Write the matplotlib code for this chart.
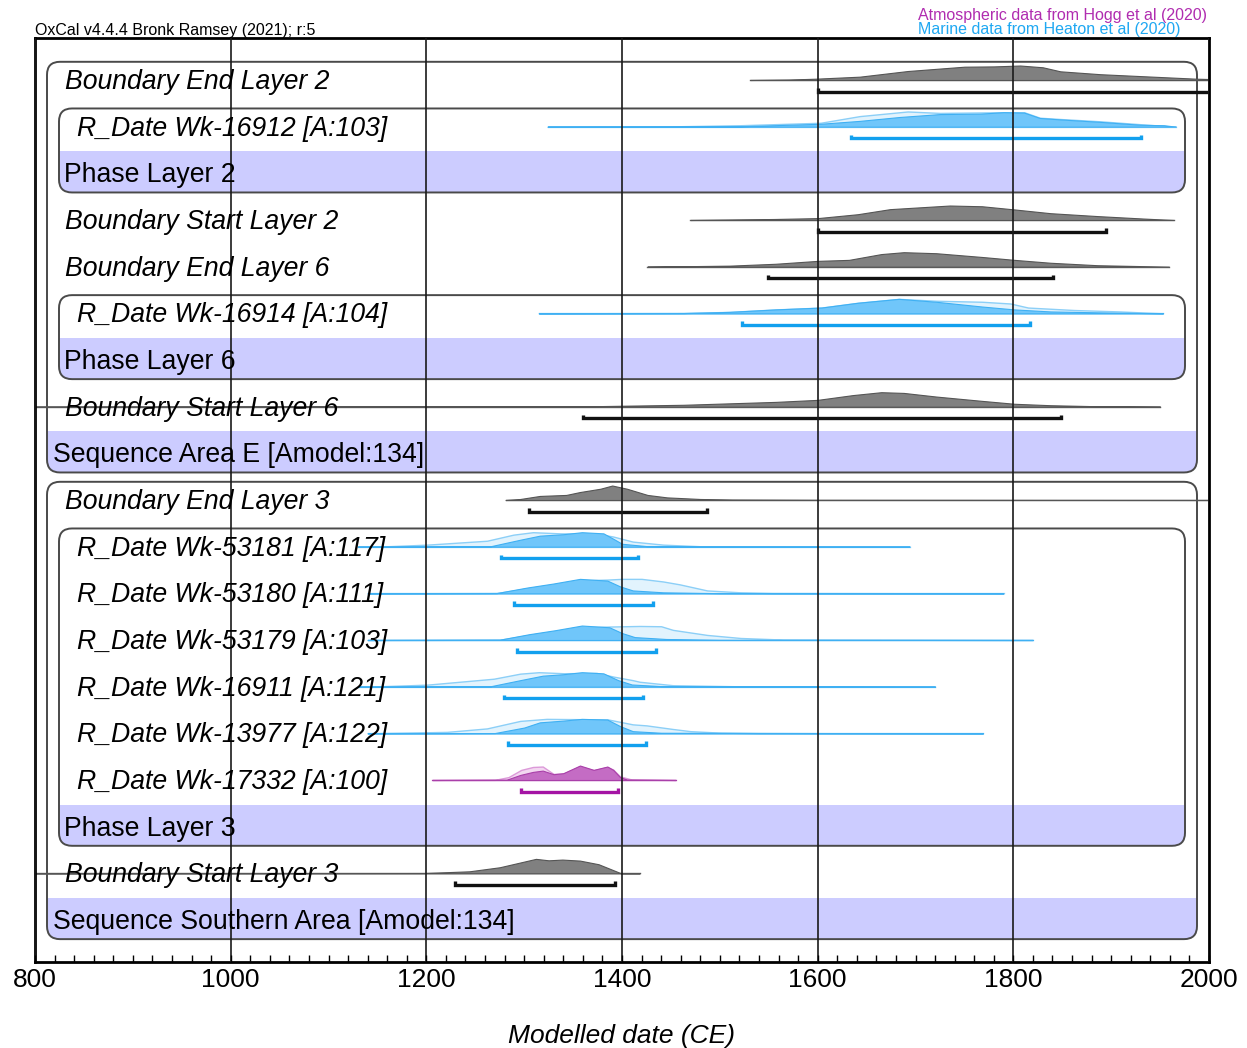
import numpy as np
import matplotlib
matplotlib.use('Agg')
import matplotlib.pyplot as plt
import matplotlib.transforms as mtransforms
from matplotlib.patches import FancyBboxPatch, Rectangle
from matplotlib.ticker import MultipleLocator

plt.rcParams['font.family'] = ['Liberation Sans', 'DejaVu Sans']

# rows, top to bottom
row_labels = [
    'Boundary End Layer 2', 'R_Date Wk-16912 [A:103]', 'Phase Layer 2',
    'Boundary Start Layer 2', 'Boundary End Layer 6', 'R_Date Wk-16914 [A:104]',
    'Phase Layer 6', 'Boundary Start Layer 6', 'Sequence Area E [Amodel:134]',
    'Boundary End Layer 3', 'R_Date Wk-53181 [A:117]', 'R_Date Wk-53180 [A:111]',
    'R_Date Wk-53179 [A:103]', 'R_Date Wk-16911 [A:121]', 'R_Date Wk-13977 [A:122]',
    'R_Date Wk-17332 [A:100]', 'Phase Layer 3', 'Boundary Start Layer 3',
    'Sequence Southern Area [Amodel:134]',
]
row_kinds = ['boundary', 'rdate', 'phase', 'boundary', 'boundary', 'rdate', 'phase',
             'boundary', 'sequence', 'boundary', 'rdate', 'rdate', 'rdate', 'rdate',
             'rdate', 'rdate', 'phase', 'boundary', 'sequence']
# curve per row: marine / atmospheric / none
row_curve = ['', 'marine', '', '', '', 'marine', '', '', '', '', 'marine', 'marine',
             'marine', 'marine', 'marine', 'atmos', '', '', '']

# nested groups: (first row, last row, level)
groups = [(0, 8, 0), (1, 2, 1), (5, 6, 1), (9, 18, 0), (10, 16, 1)]

# posterior (modelled) distributions, (year CE, relative probability)
end_l2 = [(1531, 0), (1570, .03), (1598, .09), (1643, .23), (1692, .62), (1750, .92),
          (1780, .94), (1807, 1.0), (1830, .88), (1848, .6), (1889, .4), (1930, .27),
          (1987, .09), (2040, 0)]
wk16912 = [(1324, 0), (1450, .01), (1521, .03), (1603, .2), (1643, .4), (1684, .67),
           (1725, .87), (1766, .9), (1790, 1.0), (1811, .97), (1827, .6), (1848, .5),
           (1889, .33), (1930, .13), (1954, .1), (1966, 0)]
start_l2 = [(1470, 0), (1556, .07), (1600, .13), (1641, .4), (1674, .75), (1735, 1.0),
            (1768, .95), (1801, .73), (1838, .47), (1886, .27), (1933, .1), (1964, 0)]
end_l6 = [(1426, 0), (1510, .07), (1557, .2), (1600, .4), (1632, .47), (1665, .87),
          (1688, 1.0), (1721, .93), (1768, .67), (1801, .47), (1838, .27), (1886, .1),
          (1959, 0)]
wk16914 = [(1315, 0), (1463, .02), (1510, .1), (1557, .27), (1604, .4), (1641, .73),
           (1683, 1.0), (1721, .8), (1768, .47), (1801, .27), (1838, .13), (1886, .07),
           (1953, 0)]
start_l6 = [(780, 0), (1369, .03), (1463, .13), (1557, .33), (1600, .47), (1636, .8),
            (1665, 1.0), (1688, .95), (1721, .7), (1768, .4), (1801, .2), (1838, .1),
            (1886, .03), (1950, 0)]
end_l3 = [(1281, 0), (1296, .07), (1316, .28), (1343, .35), (1357, .55), (1378, .78),
          (1390, 1.0), (1405, .78), (1426, .35), (1446, .18), (1480, .07), (1513, .03),
          (1600, .01), (2050, 0)]
wk53181 = [(1130, 0), (1265, .02), (1296, .48), (1316, .76), (1340, .86), (1359, 1.0),
           (1381, .92), (1391, .55), (1400, .2), (1425, .04), (1480, .01), (1694, 0)]
wk53180 = [(1140, 0), (1272, .02), (1303, .4), (1330, .68), (1357, 1.0), (1385, .88),
           (1398, .48), (1411, .2), (1442, .07), (1500, .01), (1790, 0)]
wk53179 = [(1140, 0), (1275, .02), (1305, .4), (1332, .68), (1359, 1.0), (1387, .88),
           (1400, .48), (1413, .2), (1445, .07), (1500, .01), (1820, 0)]
wk16911 = [(1130, 0), (1265, .02), (1296, .45), (1319, .76), (1340, .86), (1359, 1.0),
           (1381, .92), (1396, .45), (1410, .15), (1440, .04), (1720, 0)]
wk13977 = [(1140, 0), (1270, .02), (1300, .4), (1316, .76), (1340, .88), (1359, 1.0),
           (1385, .95), (1398, .5), (1411, .15), (1440, .04), (1769, 0)]
wk17332 = [(1206, 0), (1282, .02), (1296, .35), (1309, .56), (1319, .65), (1330, .4),
           (1340, .47), (1357, 1.0), (1371, .7), (1385, .93), (1391, .7), (1398, .2),
           (1405, .03), (1455, 0)]
start_l3 = [(780, 0), (1198, .02), (1244, .14), (1275, .42), (1298, .78), (1312, 1.0),
            (1325, .9), (1339, .95), (1357, .88), (1376, .63), (1394, .14), (1399, 0),
            (1418, 0)]

# unmodelled (calibrated only) distributions of the R_Dates
wk16912_cal = [(1324, 0), (1450, .02), (1521, .1), (1603, .27), (1643, .73), (1692, 1.05),
               (1725, .95), (1790, 1.0), (1811, 1.0), (1827, .62), (1848, .53), (1889, .37),
               (1930, .17), (1960, .02), (1966, 0)]
wk16914_cal = [(1315, 0), (1463, .02), (1510, .1), (1557, .27), (1604, .4), (1641, .73),
               (1683, 1.0), (1721, .87), (1768, .8), (1797, .68), (1815, .4), (1862, .23),
               (1909, .13), (1953, 0)]
wk53181_cal = [(1130, 0), (1153, .01), (1201, .14), (1262, .41), (1289, .83), (1309, 1.0),
               (1337, .92), (1374, .9), (1391, .7), (1411, .35), (1442, .14), (1480, .03),
               (1694, 0)]
wk53180_cal = [(1140, 0), (1272, .02), (1303, .35), (1330, .6), (1357, .9), (1385, .95),
               (1400, 1.0), (1420, 1.0), (1442, .82), (1459, .62), (1487, .2), (1521, .07),
               (1554, .02), (1790, 0)]
wk53179_cal = [(1140, 0), (1275, .02), (1305, .35), (1332, .6), (1359, .88), (1387, .93),
               (1418, .97), (1440, .95), (1452, .7), (1487, .35), (1521, .14), (1565, .03),
               (1820, 0)]
wk16911_cal = [(1130, 0), (1153, .03), (1201, .14), (1269, .55), (1296, .9), (1315, 1.0),
               (1340, .93), (1374, .95), (1391, .7), (1411, .45), (1418, .34), (1452, .1),
               (1534, .01), (1720, 0)]
wk13977_cal = [(1140, 0), (1221, .1), (1262, .34), (1296, .86), (1323, 1.0), (1355, .98),
               (1385, .97), (1411, .62), (1425, .55), (1452, .3), (1470, .15), (1500, .05),
               (1540, .01), (1769, 0)]
wk17332_cal = [(1206, 0), (1270, .01), (1284, .2), (1297, .7), (1309, .9), (1319, .93),
               (1330, .42), (1340, .45), (1357, .95), (1371, .68), (1385, .9), (1391, .72),
               (1398, .25), (1410, .03), (1455, 0)]

# 95.4% ranges
range_lo = [1600, 1634, None, 1600, 1549, 1523, None, 1360, None,
            1305, 1276, 1290, 1293, 1279, 1283, 1297, None, 1229, None]
range_hi = [2010, 1930, None, 1895, 1841, 1817, None, 1849, None,
            1487, 1416, 1432, 1435, 1421, 1425, 1396, None, 1393, None]

posteriors = {0: end_l2, 1: wk16912, 3: start_l2, 4: end_l6, 5: wk16914, 7: start_l6,
              9: end_l3, 10: wk53181, 11: wk53180, 12: wk53179, 13: wk16911,
              14: wk13977, 15: wk17332, 17: start_l3}
priors = {1: wk16912_cal, 5: wk16914_cal, 10: wk53181_cal, 11: wk53180_cal,
          12: wk53179_cal, 13: wk16911_cal, 14: wk13977_cal, 15: wk17332_cal}

# colours
styles = {
    '': dict(fill='#808080', edge='#555555', base='#666666', bar='#111111'),
    'marine': dict(fill='#70c6fa', edge='#3fb0f3', base='#a6dcfa', bar='#12a0ee',
                   pfill='#e2f3fd', pedge='#8ccff7'),
    'atmos': dict(fill='#c46cc4', edge='#a940a9', base='#dba0d9', bar='#a414a4',
                  pfill='#f3d8f1', pedge='#dc9ad9'),
}
band_col = '#ccccff'

W, H = 1247, 1048
fig = plt.figure(figsize=(W / 100, H / 100), dpi=100)
ax_l, ax_r, ax_t, ax_b = 35, 1209, 38, 962
ax = fig.add_axes([ax_l / W, 1 - ax_b / H, (ax_r - ax_l) / W, (ax_b - ax_t) / H])
ax.set_xlim(800, 2000)
ax.set_ylim(18.9, -0.9)

px_x = (ax_r - ax_l) / 1200.0
px_y = (ax_b - ax_t) / 19.8
aspect = px_x / px_y
rad = 13 / px_x
peak = 0.31      # peak height in rows
bar_off = 0.25

# group boxes with shaded label band
for first, last, lvl in groups:
    x0 = 800 + (12 + 12 * lvl) / px_x
    x1 = 2000 - (12 + 12 * lvl) / px_x
    top, bot = first - 0.39, last + 0.41
    box = FancyBboxPatch((x0, top), x1 - x0, bot - top,
                         boxstyle=f'round,pad=0,rounding_size={rad}',
                         mutation_aspect=aspect, fc='none', ec='#4a4a4a', lw=1.4, zorder=1.2)
    ax.add_patch(box)
    band = Rectangle((x0, last - 0.47), x1 - x0, bot - last + 0.47, fc=band_col, ec='none',
                     zorder=1)
    ax.add_patch(band)
    band.set_clip_path(box)

for r in range(len(row_labels)):
    st = styles[row_curve[r]]
    if r in priors:
        xs, ps = zip(*priors[r])
        ps = np.array(ps)
        ax.fill_between(xs, r, r - peak * ps, fc=st['pfill'], ec=st['pedge'], lw=1.0,
                        zorder=1.5)
    if r in posteriors:
        xs, ps = zip(*posteriors[r])
        ps = np.array(ps)
        ax.plot([xs[0], xs[-1]], [r, r], color=st['base'], lw=1.0, zorder=1.4)
        ax.fill_between(xs, r, r - peak * ps, fc=st['fill'], ec=st['edge'], lw=0.8,
                        zorder=1.6)
    if range_lo[r] is not None:
        yb = r + bar_off
        ax.plot([range_lo[r], range_lo[r], range_hi[r], range_hi[r]],
                [yb - 0.08, yb, yb, yb - 0.08], color=st['bar'], lw=2.4,
                solid_joinstyle='miter', solid_capstyle='butt', zorder=1.7)

# labels
blend = mtransforms.blended_transform_factory(ax.transAxes, ax.transData)
label_x = {'boundary': 30, 'rdate': 42, 'phase': 29, 'sequence': 18}
for r, (lab, kind) in enumerate(zip(row_labels, row_kinds)):
    italic = kind in ('boundary', 'rdate')
    ax.text(label_x[kind] / (ax_r - ax_l), r + 0.19, lab, transform=blend,
            fontsize=19.2, style='italic' if italic else 'normal', va='baseline',
            ha='left', color='black', zorder=3)

# axis
ax.set_xticks(range(800, 2001, 200))
ax.xaxis.set_minor_locator(MultipleLocator(20))
ax.set_yticks([])
ax.tick_params(axis='x', which='both', direction='in', length=5, width=1, labelsize=19,
               pad=4, top=False)
ax.set_axisbelow(False)
ax.grid(axis='x', which='major', color='#1a1a1a', lw=1.2)
for s in ax.spines.values():
    s.set_linewidth(2.0)
ax.set_xlabel('Modelled date (CE)', fontsize=19, style='italic', labelpad=23)

fig.text(ax_l / W, 1 - 35 / H, 'OxCal v4.4.4 Bronk Ramsey (2021); r:5', fontsize=11.5,
         va='baseline', ha='left')
fig.text(918 / W, 1 - 20 / H, 'Atmospheric data from Hogg et al (2020)', fontsize=11.5,
         va='baseline', ha='left', color='#b02cb0')
fig.text(918 / W, 1 - 34 / H, 'Marine data from Heaton et al (2020)', fontsize=11.5,
         va='baseline', ha='left', color='#1fa8f2')

fig.savefig('out.png', dpi=100)
